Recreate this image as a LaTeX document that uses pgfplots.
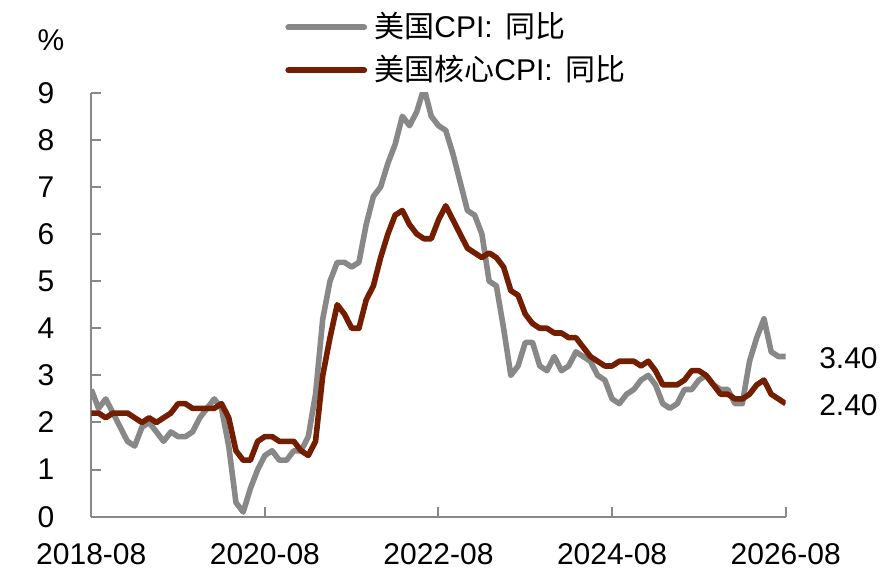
\documentclass[border=0pt]{standalone}
\usepackage{fontspec}
\usepackage{pgfplots}
\usepackage{pgfplotstable}
\pgfplotsset{compat=1.18}
\setmainfont{Liberation Sans}
\newfontfamily\cjk{Noto Sans CJK SC}

\definecolor{cpigray}{RGB}{136,136,136}
\definecolor{corebrown}{RGB}{115,30,0}

% month index from 2018-08 (=0), CPI yoy, core CPI yoy
\pgfplotstableread{
m cpi core
0 2.7 2.2
1 2.3 2.2
2 2.5 2.1
3 2.2 2.2
4 1.9 2.2
5 1.6 2.2
6 1.5 2.1
7 1.9 2.0
8 2.0 2.1
9 1.8 2.0
10 1.6 2.1
11 1.8 2.2
12 1.7 2.4
13 1.7 2.4
14 1.8 2.3
15 2.1 2.3
16 2.3 2.3
17 2.5 2.3
18 2.3 2.4
19 1.5 2.1
20 0.3 1.4
21 0.1 1.2
22 0.6 1.2
23 1.0 1.6
24 1.3 1.7
25 1.4 1.7
26 1.2 1.6
27 1.2 1.6
28 1.4 1.6
29 1.4 1.4
30 1.7 1.3
31 2.6 1.6
32 4.2 3.0
33 5.0 3.8
34 5.4 4.5
35 5.4 4.3
36 5.3 4.0
37 5.4 4.0
38 6.2 4.6
39 6.8 4.9
40 7.0 5.5
41 7.5 6.0
42 7.9 6.4
43 8.5 6.5
44 8.3 6.2
45 8.6 6.0
46 9.1 5.9
47 8.5 5.9
48 8.3 6.3
49 8.2 6.6
50 7.7 6.3
51 7.1 6.0
52 6.5 5.7
53 6.4 5.6
54 6.0 5.5
55 5.0 5.6
56 4.9 5.5
57 4.0 5.3
58 3.0 4.8
59 3.2 4.7
60 3.7 4.3
61 3.7 4.1
62 3.2 4.0
63 3.1 4.0
64 3.4 3.9
65 3.1 3.9
66 3.2 3.8
67 3.5 3.8
68 3.4 3.6
69 3.3 3.4
70 3.0 3.3
71 2.9 3.2
72 2.5 3.2
73 2.4 3.3
74 2.6 3.3
75 2.7 3.3
76 2.9 3.2
77 3.0 3.3
78 2.8 3.1
79 2.4 2.8
80 2.3 2.8
81 2.4 2.8
82 2.7 2.9
83 2.7 3.1
84 2.9 3.1
85 3.0 3.0
86 2.8 2.8
87 2.7 2.6
88 2.7 2.6
89 2.4 2.5
90 2.4 2.5
91 3.3 2.6
92 3.8 2.8
93 4.2 2.9
94 3.5 2.6
95 3.4 2.5
96 3.4 2.4
}\cpidata

\begin{document}
\fontsize{15}{18}\selectfont
\begin{tikzpicture}
\useasboundingbox (-45.65pt,-34.65pt) rectangle (402.35pt,258.35pt);
\begin{axis}[
    scale only axis,
    width=347.2pt, height=212pt,
    xmin=0, xmax=96,
    ymin=0, ymax=9,
    axis x line*=bottom, axis y line*=left,
    axis line style={cpigray, line width=1pt, -},
    xtick={0,24,48,72,96},
    xticklabels={2018-08,2020-08,2022-08,2024-08,2026-08},
    ytick={0,1,...,9},
    tick align=inside,
    major tick length=5pt,
    tick style={cpigray, line width=1pt},
    /pgf/number format/assume math mode=true,
    ticklabel style={font=\fontsize{15}{18}\selectfont, inner sep=0pt},
    xticklabel style={anchor=north, yshift=-13.3pt},
    yticklabel style={anchor=east, xshift=-18.3pt},
    clip mode=individual,
    legend style={draw=none, fill=none, at={(axis description cs:0.2789,1.017)},
        anchor=south west, inner sep=0pt, row sep=6.5pt,
        nodes={inner sep=0pt, anchor=west}, font=\fontsize{15}{18}\selectfont},
    legend cell align=left,
    legend image code/.code={\draw[#1, line width=3pt, line cap=round] (1.5pt,0pt) -- (39.4pt,0pt);},
]
\addplot[cpigray, line width=2.8pt, line join=round] table[x=m, y=cpi] {\cpidata};
\addlegendentry{\hspace*{3.6pt}{\cjk 美国}CPI:\hspace{0.15em} {\cjk 同比}}
\addplot[corebrown, line width=2.8pt, line join=round] table[x=m, y=core] {\cpidata};
\addlegendentry{\hspace*{3.6pt}{\cjk 美国核心}CPI:\hspace{0.15em} {\cjk 同比}}
\node[anchor=west, inner sep=0pt, xshift=16.6pt] at (axis cs:96,3.37) {3.40};
\node[anchor=west, inner sep=0pt, xshift=16.6pt] at (axis cs:96,2.37) {2.40};
\node[inner sep=0pt, xshift=-20.15pt, yshift=26.35pt] at (rel axis cs:0,1) {\%};
\end{axis}
\end{tikzpicture}
\end{document}
